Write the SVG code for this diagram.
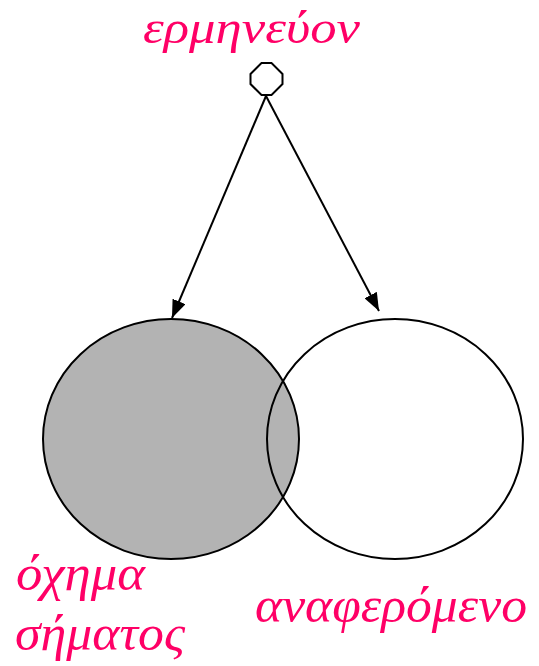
<svg xmlns="http://www.w3.org/2000/svg" width="539" height="666" viewBox="0 0 539 666">
<style>
.lbl{font-family:"Liberation Serif","DejaVu Serif",serif;font-style:italic;font-size:50px;fill:#ff0066}
.ln{stroke:#000;stroke-width:2;fill:none}
</style>
<defs>
<marker id="ah" markerWidth="18" markerHeight="14" refX="18" refY="7" orient="auto" markerUnits="userSpaceOnUse">
<path d="M0,0 L18,7 L0,14 Z" fill="#000"/>
</marker>
</defs>
<rect width="539" height="666" fill="#fff"/>
<g id="shima">
<ellipse cx="171" cy="439" rx="128" ry="120" fill="#b3b3b3" stroke="#000" stroke-width="2"/>
</g>
<g id="anaferomeno">
<ellipse cx="395" cy="439" rx="128" ry="120" fill="none" stroke="#000" stroke-width="2"/>
</g>
<g id="ermineuon">
<polygon points="261.5,63 271.5,63 282.5,74 282.5,84 271.5,95 261.5,95 250.5,84 250.5,74" fill="#fff" stroke="#000" stroke-width="2"/>
</g>
<g id="connectors">
<line class="ln" x1="266" y1="96" x2="172" y2="318" marker-end="url(#ah)"/>
<line class="ln" x1="266" y1="96" x2="379" y2="311" marker-end="url(#ah)"/>
</g>
<g id="labels">
<text class="lbl" x="143" y="43" style="font-size:47px" textLength="217" lengthAdjust="spacingAndGlyphs">ερμηνεύον</text>
<text class="lbl" x="16" y="590" textLength="129" lengthAdjust="spacingAndGlyphs">όχημα</text>
<text class="lbl" x="15" y="650" textLength="170" lengthAdjust="spacingAndGlyphs">σήματος</text>
<text class="lbl" x="255" y="622" textLength="272" lengthAdjust="spacingAndGlyphs">αναφερόμενο</text>
</g>
</svg>
